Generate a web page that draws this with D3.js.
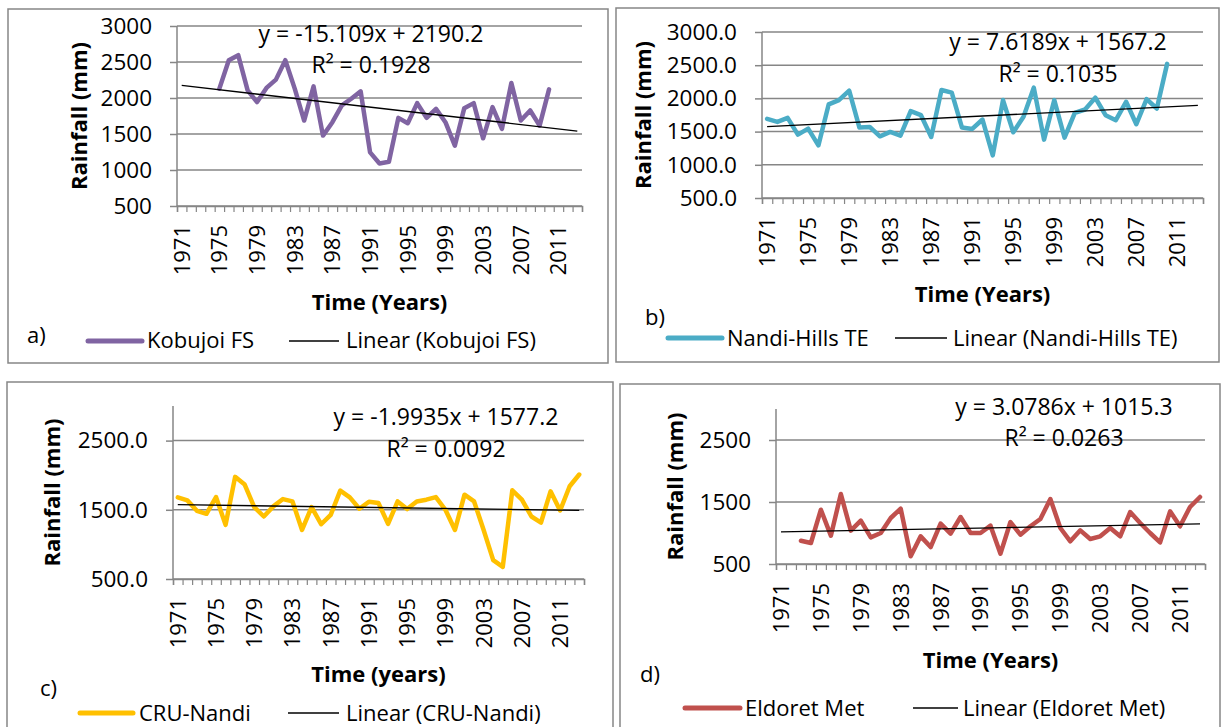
<!DOCTYPE html>
<html>
<head>
<meta charset="utf-8">
<script src="https://cdn.jsdelivr.net/npm/d3@7"></script>
<style>
  body { margin: 0; background: #fff; }
  svg text { font-family: "Open Sans", Lato, sans-serif; fill: #000; }
</style>
</head>
<body>
<svg id="chart" width="1223" height="727"></svg>
<script>
// categories (years on the x axis)
var years = [1971, 1972, 1973, 1974, 1975, 1976, 1977, 1978, 1979, 1980,
             1981, 1982, 1983, 1984, 1985, 1986, 1987, 1988, 1989, 1990,
             1991, 1992, 1993, 1994, 1995, 1996, 1997, 1998, 1999, 2000,
             2001, 2002, 2003, 2004, 2005, 2006, 2007, 2008, 2009, 2010,
             2011, 2012, 2013];
var yearLabels = [1971, 1975, 1979, 1983, 1987, 1991, 1995, 1999, 2003, 2007, 2011];

// annual rainfall (mm)
var kobujoiStart = 1975;
var kobujoi = [2130, 2525, 2595, 2106, 1943, 2140, 2255, 2525, 2130, 1687,
               2162, 1478, 1664, 1897, 1990, 2092, 1245, 1091, 1114, 1724,
               1650, 1929, 1724, 1850, 1664, 1338, 1859, 1929, 1440, 1873,
               1571, 2209, 1687, 1827, 1617, 2120];

var nandiStart = 1971;
var nandi = [1692, 1646, 1707, 1455, 1545, 1293, 1909, 1975, 2116, 1561,
             1571, 1429, 1495, 1439, 1808, 1747, 1419, 2126, 2086, 1561,
             1540, 1682, 1141, 1975, 1490, 1722, 2162, 1379, 1975, 1409,
             1783, 1833, 2010, 1747, 1672, 1949, 1611, 1990, 1848, 2520];

var cruStart = 1971;
var cru = [1680, 1636, 1485, 1442, 1684, 1282, 1976, 1864, 1539, 1403,
           1549, 1655, 1621, 1209, 1539, 1291, 1427, 1777, 1680, 1515,
           1617, 1597, 1296, 1621, 1510, 1621, 1646, 1684, 1500, 1209,
           1718, 1621, 1209, 772, 675, 1782, 1646, 1403, 1316, 1767,
           1490, 1840, 2010];

var eldoretStart = 1973;
var eldoret = [876, 839, 1376, 957, 1629, 1038, 1199, 930, 1000, 1242,
               1392, 624, 946, 774, 1151, 989, 1258, 1000, 1000, 1118,
               667, 1177, 973, 1108, 1226, 1548, 1081, 866, 1043, 903,
               946, 1081, 946, 1339, 1161, 1000, 849, 1349, 1108, 1419,
               1581];

// linear trend equations (x = category number, 1971 = 1)
var trendSlope = [-15.109, 7.6189, -1.9935, 3.0786];
var trendIntercept = [2190.2, 1567.2, 1577.2, 1015.3];
var trendR2 = ["0.1928", "0.1035", "0.0092", "0.0263"];

var ticksFull = [500, 1000, 1500, 2000, 2500, 3000];
var ticksSparse = [500, 1500, 2500];

var svg = d3.select("#chart");
var fs = "22px";

var panels = [
  {letter: "a)", name: "Kobujoi FS", start: kobujoiStart, values: kobujoi, color: "#8064A2",
   ticks: ticksFull, fmt: d3.format("d"), xTitle: "Time (Years)",
   box: [8, 9, 600, 354], plot: {x0: 177, x1: 582, top: 26, bot: 206},
   yTitleX: 79, xTitleY: 310, letterPos: [27, 343],
   leg: {y: 341, ty: 348, l1: [88, 142], t1: 147, l2: [289, 339], t2: 346},
   eq: {x: 371, y1: 42, y2: 73}},
  {letter: "b)", name: "Nandi-Hills TE", start: nandiStart, values: nandi, color: "#4BACC6",
   ticks: ticksFull, fmt: d3.format(".1f"), xTitle: "Time (Years)",
   box: [616, 8, 603, 354], plot: {x0: 762, x1: 1203, top: 32, bot: 198},
   yTitleX: 643, xTitleY: 302, letterPos: [645, 325],
   leg: {y: 338, ty: 346, l1: [668, 722], t1: 727, l2: [895, 947], t2: 953},
   eq: {x: 1058, y1: 50, y2: 82}},
  {letter: "c)", name: "CRU-Nandi", start: cruStart, values: cru, color: "#FFC000",
   ticks: ticksSparse, fmt: d3.format(".1f"), xTitle: "Time (years)",
   box: [7, 382, 606, 360], plot: {x0: 173, x1: 584, top: 406, bot: 579},
   yTitleX: 52, xTitleY: 682, letterPos: [40, 696],
   leg: {y: 713, ty: 721, l1: [80, 133], t1: 139, l2: [288, 339], t2: 346},
   eq: {x: 446, y1: 425, y2: 457}},
  {letter: "d)", name: "Eldoret Met", start: eldoretStart, values: eldoret, color: "#C0504D",
   ticks: ticksSparse, fmt: d3.format("d"), xTitle: "Time (Years)",
   box: [620, 384, 600, 360], plot: {x0: 776, x1: 1205, top: 409, bot: 564},
   yTitleX: 675, xTitleY: 668, letterPos: [640, 682],
   leg: {y: 708, ty: 716, l1: [685, 740], t1: 745, l2: [913, 958], t2: 963},
   eq: {x: 1064, y1: 415, y2: 446}}
];

var grey = "#868686";

panels.forEach(function (p, k) {
  var g = svg.append("g");
  var pl = p.plot;

  // chart area border
  g.append("rect")
    .attr("x", p.box[0]).attr("y", p.box[1])
    .attr("width", p.box[2]).attr("height", p.box[3])
    .attr("fill", "none").attr("stroke", grey).attr("stroke-width", 1.5);

  var y = d3.scaleLinear().domain([500, 3000]).range([pl.bot, pl.top]);
  var xb = d3.scaleBand().domain(years).range([pl.x0, pl.x1]);
  var xc = function (yr) { return xb(yr) + xb.bandwidth() / 2; };
  var xEdge = d3.scaleLinear().domain([0, years.length]).range([pl.x0, pl.x1]);

  // gridlines
  g.selectAll(".grid").data(p.ticks).enter().append("line")
    .attr("x1", pl.x0).attr("x2", pl.x1)
    .attr("y1", function (d) { return y(d); })
    .attr("y2", function (d) { return y(d); })
    .attr("stroke", grey).attr("stroke-width", 1.5);

  // y axis
  var ya = g.append("g").attr("transform", "translate(" + pl.x0 + ",0)")
    .call(d3.axisLeft(y).tickValues(p.ticks).tickSize(7).tickPadding(18).tickFormat(p.fmt));
  ya.select(".domain").remove();
  ya.selectAll(".tick line").attr("stroke", grey).attr("stroke-width", 1.5);
  ya.selectAll("text").style("font-size", "22.5px").style("font-family", "'Open Sans'");
  g.append("line").attr("x1", pl.x0).attr("x2", pl.x0).attr("y1", pl.top).attr("y2", pl.bot)
    .attr("stroke", grey).attr("stroke-width", 1.5);

  // x axis (tick marks between categories)
  var xa = g.append("g").attr("transform", "translate(0," + pl.bot + ")")
    .call(d3.axisBottom(xEdge).tickValues(d3.range(years.length + 1)).tickSize(6).tickFormat(""));
  xa.select(".domain").attr("stroke", grey).attr("stroke-width", 1.5);
  xa.selectAll(".tick line").attr("stroke", grey).attr("stroke-width", 1.2);

  g.selectAll(".xl").data(yearLabels).enter().append("text")
    .attr("transform", function (d) { return "translate(" + xc(d) + "," + (pl.bot + 19) + ") rotate(-90)"; })
    .attr("text-anchor", "end").attr("dy", "0.36em")
    .style("font-size", fs)
    .text(function (d) { return d; });

  // axis titles
  g.append("text")
    .attr("transform", "translate(" + p.yTitleX + "," + ((pl.top + pl.bot) / 2) + ") rotate(-90)")
    .attr("text-anchor", "middle").attr("dy", "0.36em")
    .style("font-size", fs).style("font-weight", "bold")
    .text("Rainfall (mm)");
  g.append("text")
    .attr("x", (pl.x0 + pl.x1) / 2).attr("y", p.xTitleY)
    .attr("text-anchor", "middle")
    .style("font-size", fs).style("font-weight", "bold")
    .text(p.xTitle);

  // trend line
  var trend = [years[0], years[years.length - 1]].map(function (yr) {
    var n = years.indexOf(yr) + 1;
    return {year: yr, value: trendSlope[k] * n + trendIntercept[k]};
  });
  var line = d3.line()
    .x(function (d) { return xc(d.year); })
    .y(function (d) { return y(d.value); });

  // series
  var series = p.values.map(function (v, i) {
    return {year: years[years.indexOf(p.start) + i], value: v};
  });
  g.append("path").datum(series).attr("d", line)
    .attr("fill", "none").attr("stroke", p.color).attr("stroke-width", 4.5)
    .attr("stroke-linejoin", "round").attr("stroke-linecap", "round");
  g.append("path").datum(trend).attr("d", line)
    .attr("fill", "none").attr("stroke", "#000").attr("stroke-width", 1.4);

  // equation label
  var eqTxt = "y = " + (trendSlope[k] < 0 ? "-" + Math.abs(trendSlope[k]) : trendSlope[k]) +
              "x + " + trendIntercept[k].toFixed(1);
  g.append("text").attr("x", p.eq.x).attr("y", p.eq.y1).attr("text-anchor", "middle")
    .style("font-size", "23px").text(eqTxt);
  g.append("text").attr("x", p.eq.x).attr("y", p.eq.y2).attr("text-anchor", "middle")
    .style("font-size", "23px").text("R² = " + trendR2[k]);

  // panel letter
  g.append("text").attr("x", p.letterPos[0]).attr("y", p.letterPos[1])
    .style("font-size", fs).text(p.letter);

  // legend
  g.append("line").attr("x1", p.leg.l1[0]).attr("x2", p.leg.l1[1])
    .attr("y1", p.leg.y).attr("y2", p.leg.y)
    .attr("stroke", p.color).attr("stroke-width", 5).attr("stroke-linecap", "round");
  g.append("text").attr("x", p.leg.t1).attr("y", p.leg.ty)
    .style("font-size", fs).text(p.name);
  g.append("line").attr("x1", p.leg.l2[0]).attr("x2", p.leg.l2[1])
    .attr("y1", p.leg.y).attr("y2", p.leg.y)
    .attr("stroke", "#000").attr("stroke-width", 1.4);
  g.append("text").attr("x", p.leg.t2).attr("y", p.leg.ty)
    .style("font-size", fs).text("Linear (" + p.name + ")");
});
</script>
</body>
</html>
